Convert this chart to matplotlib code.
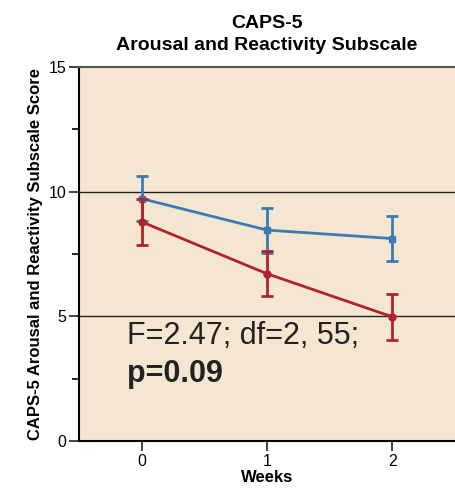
import matplotlib

matplotlib.use("Agg")
import matplotlib.pyplot as plt

plt.rcParams["font.family"] = ["Liberation Sans", "DejaVu Sans"]

weeks = [0, 1, 2]
blue_mean = [9.72, 8.46, 8.12]
blue_err = [0.91, 0.90, 0.91]
red_mean = [8.79, 6.71, 4.98]
red_err = [0.92, 0.90, 0.91]

title = "CAPS-5\nArousal and Reactivity Subscale"
ylabel = "CAPS-5 Arousal and Reactivity Subscale Score"
xlabel = "Weeks"
stat_line = "F=2.47; df=2, 55;"
p_line = "p=0.09"

BLUE = "#3c7ab3"
RED = "#b0232b"

fig = plt.figure(figsize=(4.55, 4.91), dpi=100)
ax = fig.add_axes([0.1736, 0.1018, 0.8264, 0.7617])
ax.set_facecolor("#f5e6d2")

# horizontal reference lines
for yv in (5, 10):
    ax.axhline(yv, color="#222222", lw=1.0, zorder=1)

ax.errorbar(weeks, blue_mean, yerr=blue_err, color=BLUE, marker="s",
            markersize=5, lw=2, elinewidth=2, capsize=4, capthick=2, zorder=3)
ax.errorbar(weeks, red_mean, yerr=red_err, color=RED, marker="o",
            markersize=5, lw=2, elinewidth=2, capsize=4, capthick=2, zorder=4)

ax.set_xlim(-0.5, 2.5)
ax.set_ylim(0, 15)
ax.set_xticks(weeks)
ax.set_yticks([0, 5, 10, 15])
ax.set_yticks([2.5, 7.5, 12.5], minor=True)
ax.tick_params(axis="both", labelsize=11.5, length=7, width=1.2,
               color="#222222", pad=2)
ax.tick_params(axis="y", which="minor", length=5, width=1.2)

ax.spines["right"].set_visible(False)
ax.spines["top"].set_color("#555555")
ax.spines["top"].set_linewidth(1.5)
ax.spines["left"].set_linewidth(1.5)
ax.spines["bottom"].set_linewidth(1.5)

ax.set_xlabel(xlabel, fontsize=12, fontweight="bold", labelpad=1)
ax.set_ylabel(ylabel, fontsize=12, fontweight="bold", labelpad=4)
ax.set_title(title, fontsize=14, fontweight="bold", pad=12, linespacing=1.45)

ax.text(0.128, 0.259, stat_line, transform=ax.transAxes, fontsize=22,
        color="#222222")
ax.text(0.128, 0.158, p_line, transform=ax.transAxes, fontsize=22,
        fontweight="bold", color="#222222")

fig.savefig("out.png", dpi=100)
plt.close(fig)
